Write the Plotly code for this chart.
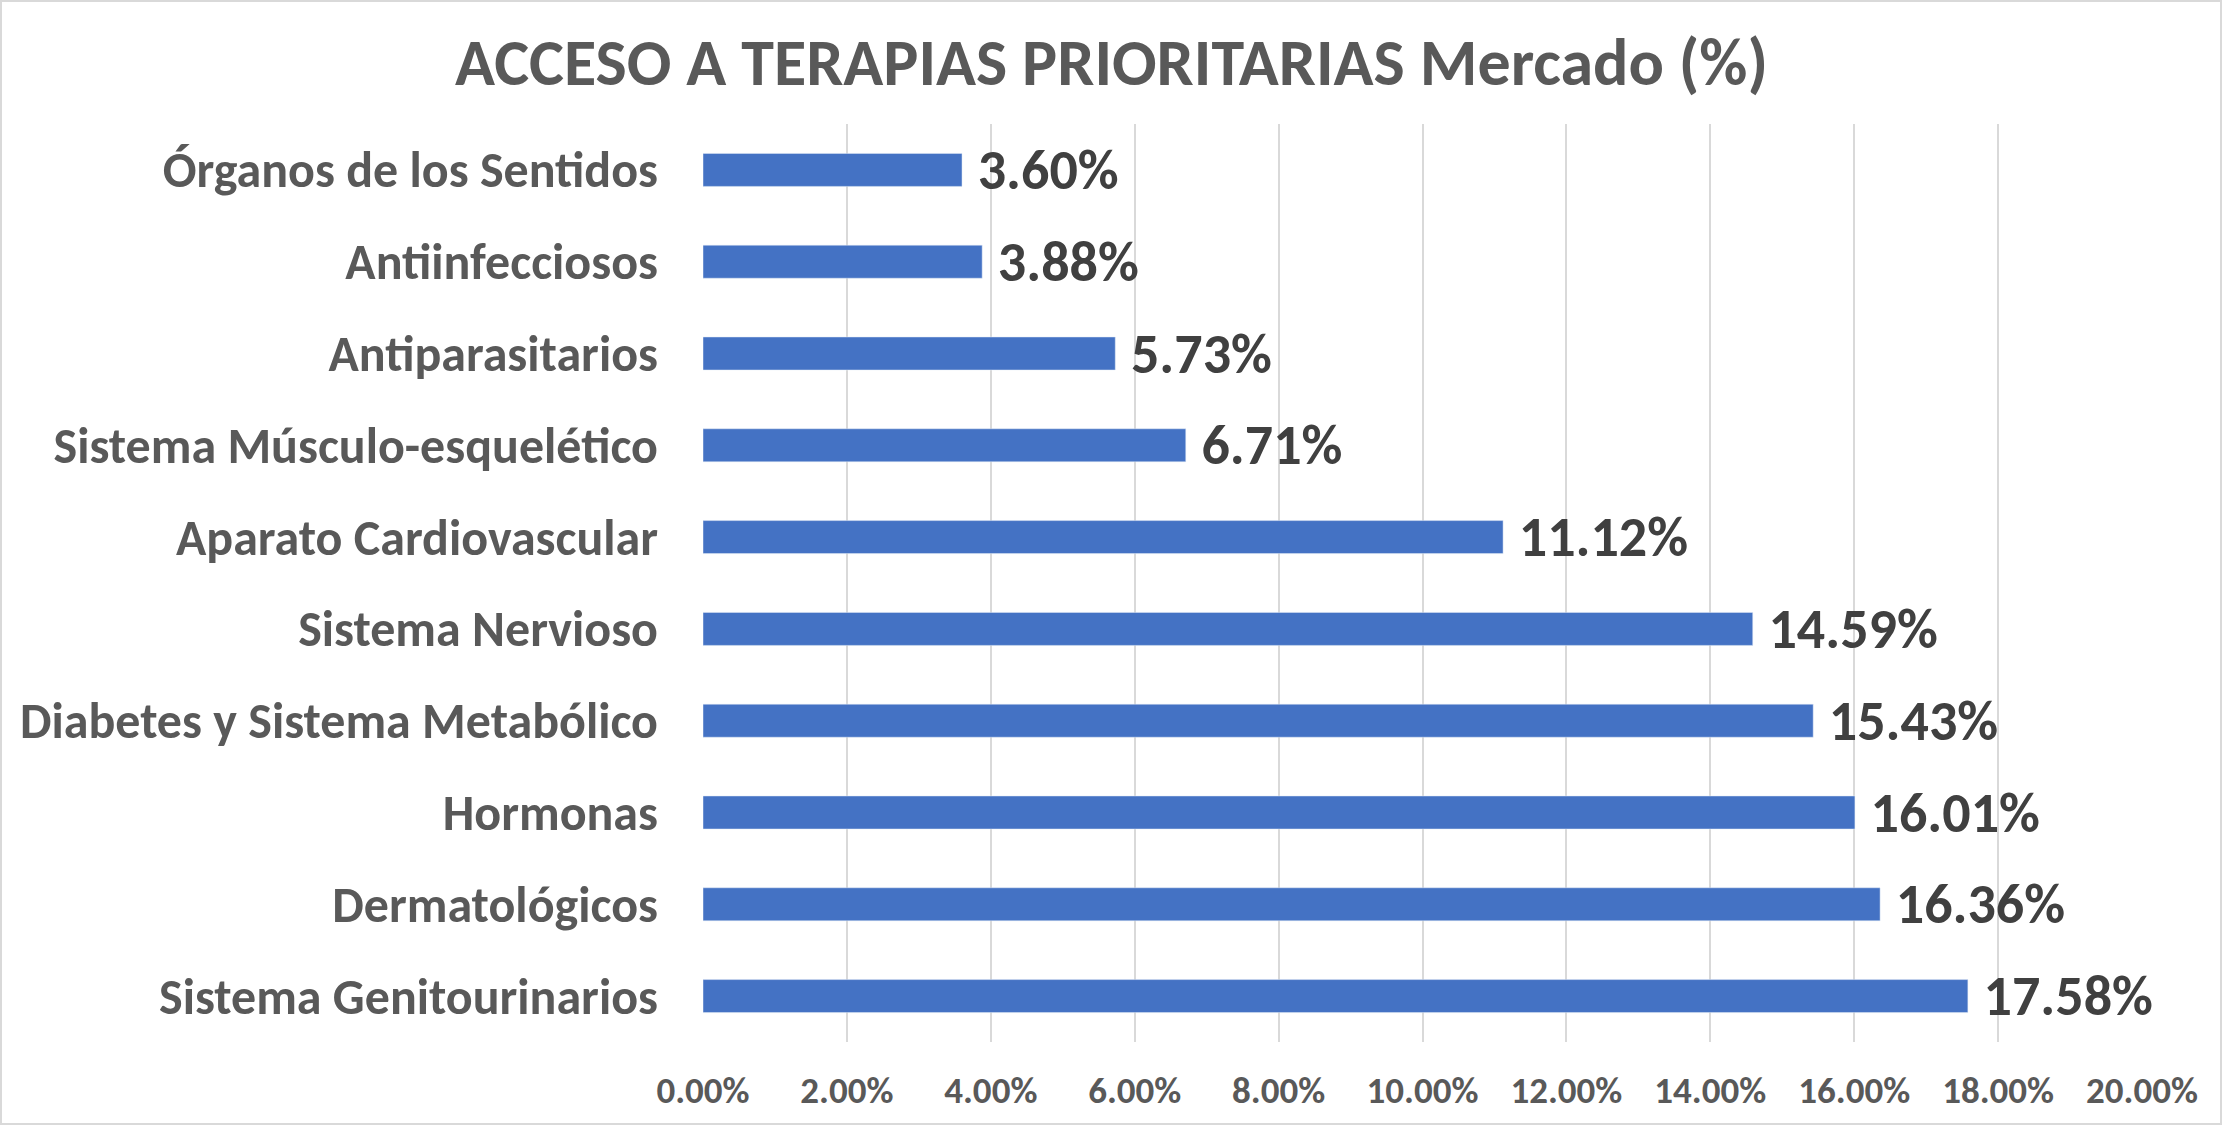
import plotly.graph_objects as go

# Datos del gráfico (de arriba hacia abajo)
categorias = [
    "Órganos de los Sentidos",
    "Antiinfecciosos",
    "Antiparasitarios",
    "Sistema Músculo-esquelético",
    "Aparato Cardiovascular",
    "Sistema Nervioso",
    "Diabetes y Sistema Metabólico",
    "Hormonas",
    "Dermatológicos",
    "Sistema Genitourinarios",
]
mercado = [0.0360, 0.0388, 0.0573, 0.0671, 0.1112, 0.1459, 0.1543, 0.1601, 0.1636, 0.1758]

FUENTE = "Carlito, Calibri, Lato, sans-serif"
W, H = 2223, 1126
ML, MR, MT, MB = 703, 81, 124, 84

fig = go.Figure(go.Bar(
    y=categorias,
    x=mercado,
    orientation="h",
    marker_color="#4472C4",
    texttemplate=" %{x:.2%}",
    textposition="outside",
    constraintext="none",
    cliponaxis=False,
    textfont=dict(family=FUENTE, size=56, color="#404040", weight="bold"),
    hoverinfo="skip",
))

pw = W - ML - MR
ph = H - MT - MB

fig.update_layout(
    width=W, height=H,
    margin=dict(l=ML, r=MR, t=MT, b=MB),
    plot_bgcolor="white",
    paper_bgcolor="white",
    bargap=0.64,
    showlegend=False,
    title=dict(
        text="<b>ACCESO A TERAPIAS PRIORITARIAS Mercado (%)</b>",
        x=0.5, xref="container", xanchor="center",
        y=1 - 62 / H, yref="container", yanchor="middle",
        font=dict(family=FUENTE, size=66, color="#595959"),
    ),
    font=dict(family=FUENTE, color="#595959"),
    # borde del área del gráfico
    shapes=[dict(
        type="rect", xref="paper", yref="paper",
        x0=(1 - ML) / pw, x1=(W - 2 - ML) / pw,
        y0=(H - MB - (H - 2)) / ph, y1=(H - MB - 1) / ph,
        line=dict(color="#D9D9D9", width=2),
    )],
)

fig.update_xaxes(
    range=[0, 0.2], dtick=0.02, tickformat=".2%",
    showgrid=True, gridcolor="#D9D9D9", gridwidth=1.5,
    zeroline=False, showline=False,
    ticklabelstandoff=23,
    tickfont=dict(family=FUENTE, size=37, color="#595959", weight="bold"),
)
fig.update_yaxes(
    autorange="reversed",
    showgrid=False, showline=False, zeroline=False,
    ticklabelstandoff=44,
    tickfont=dict(family=FUENTE, size=50, color="#595959", weight="bold"),
)

fig.write_html("out.html", config={"displayModeBar": False},
               post_script="document.body.style.margin='0';")
